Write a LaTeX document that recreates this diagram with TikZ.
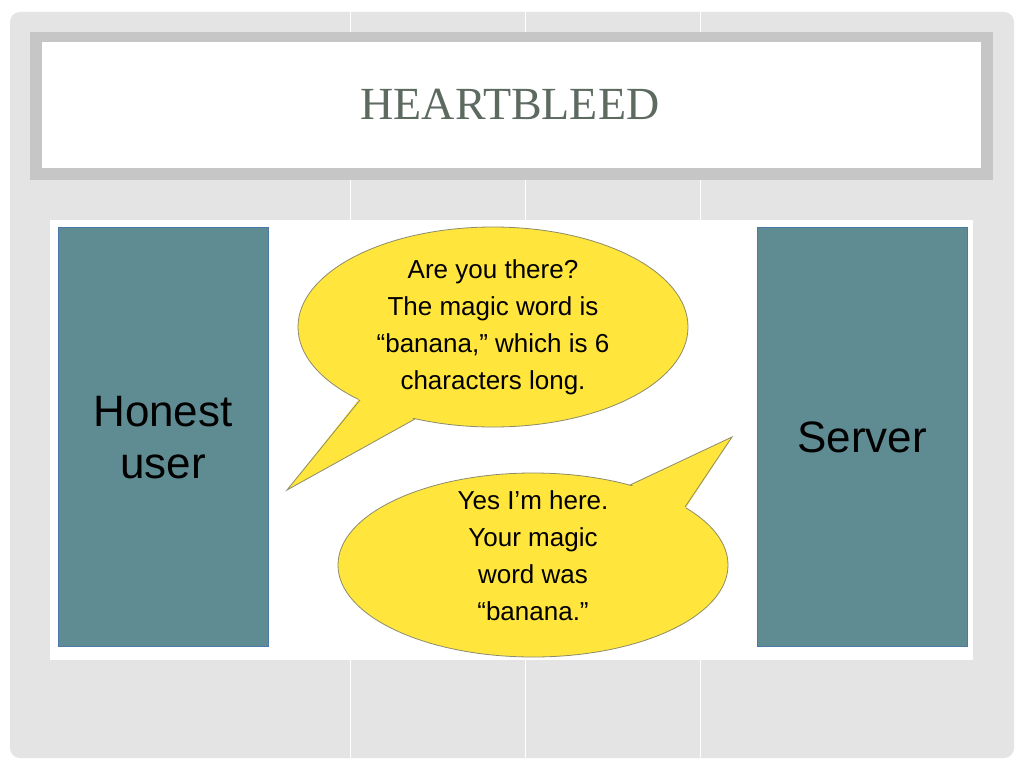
\documentclass[tikz,border=0pt]{standalone}
\usepackage{fontspec}
\setmainfont{Liberation Sans}
\newfontfamily\titlefont{Liberation Serif}
\definecolor{bg}{HTML}{E4E4E4}
\definecolor{teal}{HTML}{5F8C93}
\definecolor{tealedge}{HTML}{4A78A8}
\definecolor{yel}{HTML}{FFE53C}
\definecolor{yedge}{HTML}{8C8C6A}
\definecolor{ttl}{HTML}{5C6A60}
\begin{document}
\begin{tikzpicture}[x=1pt,y=-1pt,
  box/.style={fill=teal,draw=tealedge,line width=1pt},
  bub/.style={fill=yel,draw=yedge,line width=0.8pt},
  btxt/.style={font=\fontsize{26}{37}\selectfont,align=center,text=black}]
\useasboundingbox (0,0) rectangle (1024,768);
\fill[white] (0,0) rectangle (1024,768);
\fill[bg,rounded corners=10] (10,12) rectangle (1014,758);
\foreach \x in {350,525,700}{\draw[white,line width=1pt] (\x,12) -- (\x,758);}
\fill[gray!45] (30,32) rectangle (993,180);
\fill[white] (42,42) rectangle (981,168);
\node[font=\titlefont\fontsize{46}{50}\selectfont,text=ttl] (title) at (510,104) {HEARTBLEED};
\fill[white] (50,220) rectangle (973,660);
\draw[box] (58,227) rectangle (268,646);
\draw[box] (757,227) rectangle (967,646);
\node[font=\fontsize{44}{52}\selectfont,align=center] (user) at (163,438) {Honest\\user};
\node[font=\fontsize{44}{52}\selectfont] (server) at (862,437) {Server};
% bubble 1
\coordinate (t1) at (287,490);
\fill[yel] (360,400) -- (t1) -- (415,419) -- cycle;
\draw[bub] (493,327) ellipse [x radius=195,y radius=100];
\fill[yel] (360,398) -- (t1) -- (415,417) -- cycle;
\draw[yedge,line width=0.8pt] (360,400) -- (t1) -- (415,419);
\node[btxt] (q) at (493,327) {Are you there?\\The magic word is\\“banana,” which is 6\\characters long.};
% bubble 2
\coordinate (t2) at (732,437);
\fill[yel] (630,485) -- (t2) -- (685,507) -- cycle;
\draw[bub] (533,565) ellipse [x radius=195,y radius=92];
\fill[yel] (630,487) -- (t2) -- (685,509) -- cycle;
\draw[yedge,line width=0.8pt] (630,485) -- (t2) -- (685,507);
\node[btxt] (a) at (533,556) {Yes I'm here.\\Your magic\\word was\\“banana.”};
\end{tikzpicture}
\end{document}
